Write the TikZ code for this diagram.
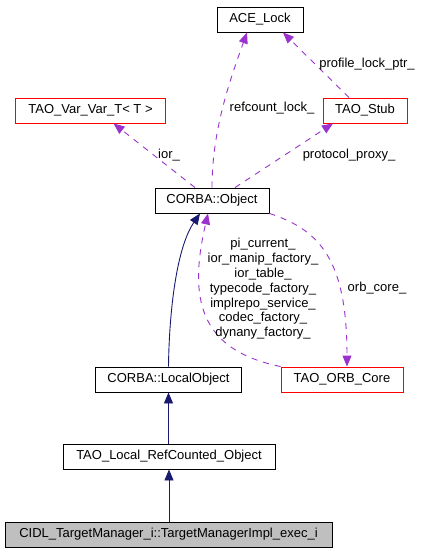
\documentclass[tikz,border=0pt]{standalone}
\usepackage{fontspec}
\setmainfont{Liberation Sans}
\usetikzlibrary{arrows.meta,calc}
\definecolor{edgepurple}{HTML}{9A32CD}
\definecolor{edgeblue}{HTML}{191970}
\definecolor{boxgray}{HTML}{BFBFBF}
\begin{document}
\begin{tikzpicture}[x=1pt,y=-1pt,
  cls/.style={draw=black,line width=0.9pt,rectangle,inner sep=0pt,minimum height=25pt,font=\fontsize{13}{15}\selectfont},
  redcls/.style={cls,draw=red},
  usage/.style={draw=edgepurple,line width=0.9pt,dash pattern=on 6pt off 6pt,-{Triangle[length=11pt,width=9pt]},edgepurple},
  inherit/.style={draw=edgeblue,line width=0.9pt,-{Triangle[length=11pt,width=9pt]},edgeblue},
  lbl/.style={font=\fontsize{13}{15}\selectfont,inner sep=0pt,align=center}]
\useasboundingbox (0,0) rectangle (424,552);
\node[cls,minimum width=86pt] (ace) at (260,19.5) {ACE\_Lock};
\node[redcls,minimum width=150pt] (var) at (90.5,110.5) {TAO\_Var\_Var\_T< T >};
\node[redcls,minimum width=84pt] (stub) at (365,110.5) {TAO\_Stub};
\node[cls,minimum width=114pt] (obj) at (212,200.5) {CORBA::Object};
\node[cls,minimum width=146pt] (lobj) at (168.5,379.5) {CORBA::LocalObject};
\node[redcls,minimum width=122pt] (orb) at (342,379.5) {TAO\_ORB\_Core};
\node[cls,minimum width=212pt] (tlr) at (169,456.5) {TAO\_Local\_RefCounted\_Object};
\node[cls,fill=boxgray,minimum width=327pt] (cidl) at (168.5,534.5) {CIDL\_TargetManager\_i::TargetManagerImpl\_exec\_i};
% inheritance
\draw[inherit] (cidl.north -| tlr.south) -- (tlr.south);
\draw[inherit] ($(tlr.north)+(-0.5,0)$) -- (lobj.south);
\draw[inherit] (lobj.north) .. controls (169,320) and (175,250) .. ($(obj.south)+(-12,0)$);
% usage
\draw[usage] (obj.north) .. controls (212,130) and (230,80) .. ($(ace.south)+(-13,0)$);
\node[lbl] (l1) at (272,108) {refcount\_lock\_};
\draw[usage] ($(stub.north)+(-16,0)$) -- ($(ace.south)+(23,0)$);
\node[lbl] (l2) at (367,64) {profile\_lock\_ptr\_};
\draw[usage] ($(obj.north)+(-17,0)$) -- ($(var.south)+(23,0)$);
\node[lbl] (l3) at (169,155) {ior\_};
\draw[usage] ($(obj.north)+(23,0)$) -- ($(stub.south)+(-32,0)$);
\node[lbl] (l4) at (349,155) {protocol\_proxy\_};
\draw[usage] (obj.south east) .. controls (320,230) and (347,260) .. ($(orb.north)+(5,0)$);
\node[lbl] (l5) at (377,288) {orb\_core\_};
\draw[usage] (orb.north west) .. controls (200,350) and (188,300) .. ($(obj.south)+(-4,0)$);
\node[lbl] (l6) at (263,289) {pi\_current\_\\[-0.2pt]ior\_manip\_factory\_\\[-0.2pt]ior\_table\_\\[-0.2pt]typecode\_factory\_\\[-0.2pt]implrepo\_service\_\\[-0.2pt]codec\_factory\_\\[-0.2pt]dynany\_factory\_};
\end{tikzpicture}
\end{document}
